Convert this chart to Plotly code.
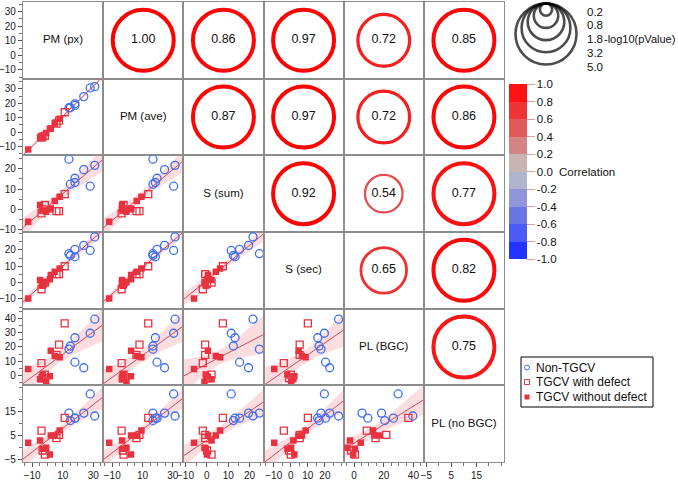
import numpy as np
import plotly.graph_objects as go

W, H = 678, 482

# ---------------- data ----------------
variables = ["PM (px)", "PM (ave)", "S (sum)", "S (sec)", "PL (BGC)", "PL (no BGC)"]
group_names = ["Non-TGCV", "TGCV with defect", "TGCV without defect"]

pm_px    = [14.1, 15.0, 18.0, 18.0, 23.8, 28.0, 31.0, -12.6, -4.8, -3.2, -1.7, -3.9, -0.8, -3.2, 1.6, 5.9, 7.6, 4.8, 8.0, 11.3, 2.2]
pm_ave   = [16.9, 16.9, 18.5, 19.6, 24.6, 30.6, 31.5, -12.0, -3.5, -3.0, -2.5, -3.8, -0.6, -2.8, 2.4, 6.0, 8.0, 6.2, 9.3, 13.8, 2.5]
s_sum    = [24.6, 12.4, 13.2, 15.3, 19.5, 11.4, 21.6, -6.0, 2.2, 0.1, 2.2, -1.9, -1.1, -0.5, 0.1, -0.8, -0.8, 4.2, 6.2, 7.5, 0.5]
s_sec    = [17.7, 16.6, 15.8, 20.4, 22.8, 19.7, 28.0, -9.7, 1.5, -1.0, 0.0, -4.1, 0.2, -2.0, 2.1, 5.2, 5.2, 6.6, 8.7, 10.0, 4.6]
pl_bgc   = [18.5, 20.7, 26.5, 9.3, 5.4, 29.7, 39.6, 4.5, -2.7, -2.0, 0.6, 8.6, -4.4, 0.6, -0.6, 14.5, 21.7, 13.7, 12.8, 36.6, 17.3]
pl_nobgc = [14.4, 11.3, 12.3, 12.3, 14.4, 22.4, 13.2, 2.0, 3.0, -1.2, -2.9, 7.1, -0.1, -0.5, -2.9, 4.0, 5.3, 5.1, 7.1, 12.4, 5.1]
group = (["Non-TGCV"] * 7 +
         ["TGCV without defect", "TGCV without defect", "TGCV with defect", "TGCV with defect",
          "TGCV with defect", "TGCV without defect", "TGCV without defect", "TGCV without defect",
          "TGCV with defect", "TGCV with defect", "TGCV without defect", "TGCV without defect",
          "TGCV with defect", "TGCV without defect"])

# upper triangle: correlation and -log10(pValue), row by row
corr_values = [1.00, 0.86, 0.97, 0.72, 0.85,
               0.87, 0.97, 0.72, 0.86,
               0.92, 0.54, 0.77,
               0.65, 0.82,
               0.75]
neglog10p = [5.0, 5.0, 5.0, 3.6, 5.0,
             5.0, 5.0, 3.6, 5.0,
             5.0, 1.9, 5.0,
             2.8, 5.0,
             5.0]
size_legend_values = [0.2, 0.8, 1.8, 3.2, 5.0]
colorbar_ticks = [1.0, 0.8, 0.6, 0.4, 0.2, 0.0, -0.2, -0.4, -0.6, -0.8, -1.0]

# axis ranges / ticks per variable (layout)
ranges = [[-16, 36.5], [-16, 37], [-11, 26.5], [-16, 31], [-7, 47], [-6, 26]]
yticks = [[-10, 0, 10, 20, 30], [-10, 0, 10, 20, 30], [-10, 0, 10, 20], [-10, 0, 10, 20], [0, 10, 20, 30, 40], [-5, 5, 15]]
xticks = [[-10, 10, 30], [-10, 10, 30], [-10, 0, 10, 20], [-10, 0, 10, 20], [0, 20, 40], [-5, 5, 15]]

data = [pm_px, pm_ave, s_sum, s_sec, pl_bgc, pl_nobgc]
data = [np.array(v, dtype=float) for v in data]
grp = np.array(group)
n = len(pm_px)
T_CRIT = 2.093  # t(0.975, df=19)

# ---------------- layout geometry ----------------
L, R, T, B = 23, 504, 2, 462
cw = (R - L) / 6
ch = (B - T) / 6
FONT = "Liberation Sans, Arial, Helvetica, sans-serif"

styles = {
    "Non-TGCV": dict(symbol="circle-open", size=8, color="#3f6ff0", line=dict(width=1.3, color="#3f6ff0")),
    "TGCV with defect": dict(symbol="square-open", size=7, color="#e8323f", line=dict(width=1.3, color="#e8323f")),
    "TGCV without defect": dict(symbol="square", size=6.5, color="#e8323f", line=dict(width=0)),
}

def corr_color(r):
    stops = [(-1.0, (34, 51, 255)), (-0.6, (90, 106, 232)), (-0.2, (154, 162, 216)), (0.0, (189, 189, 200)),
             (0.2, (207, 164, 164)), (0.4, (216, 112, 112)), (0.6, (232, 64, 64)), (0.8, (255, 8, 8)), (1.0, (255, 0, 0))]
    for (a, ca), (b, cb) in zip(stops[:-1], stops[1:]):
        if a <= r <= b:
            t = (r - a) / (b - a)
            c = [round(ca[k] + (cb[k] - ca[k]) * t) for k in range(3)]
            return "rgb(%d,%d,%d)" % tuple(c)
    return "rgb(255,0,0)"

RMAX = 30.5
def radius(v):
    return RMAX * np.sqrt(min(v, 5.0) / 5.0)

def stroke(v):
    return 1.2 + 2.8 * min(v, 5.0) / 5.0

fig = go.Figure()
layout = dict(width=W, height=H, margin=dict(l=0, r=0, t=0, b=0, autoexpand=False),
              paper_bgcolor="white", plot_bgcolor="rgba(0,0,0,0)",
              showlegend=False, font=dict(family=FONT, color="#111"))
annotations = []
shapes = []

def minor_vals(rng):
    lo, hi = rng
    start = np.ceil(lo / 5) * 5
    return list(np.arange(start, hi + 0.01, 5))

TICKFONT = dict(size=10, color="#222")
upper_idx = 0
for i in range(6):
    for j in range(6):
        k = i * 6 + j + 1
        xa = "xaxis" if k == 1 else f"xaxis{k}"
        ya = "yaxis" if k == 1 else f"yaxis{k}"
        xr = "x" if k == 1 else f"x{k}"
        yr = "y" if k == 1 else f"y{k}"
        x0 = (L + j * cw) / W
        x1 = (L + (j + 1) * cw) / W
        y1 = 1 - (T + i * ch) / H
        y0 = 1 - (T + (i + 1) * ch) / H
        base = dict(showline=True, mirror=True, linecolor="#8c8c8c", linewidth=1.3, automargin=False,
                    showgrid=False, zeroline=False, fixedrange=True)
        xax = dict(base, domain=[x0, x1], anchor=yr, range=ranges[j])
        yax = dict(base, domain=[y0, y1], anchor=xr, range=ranges[i])
        if i == 5:
            xax.update(tickmode="array", tickvals=xticks[j], ticks="outside", ticklen=4, tickwidth=1,
                       tickcolor="#555", showticklabels=True, tickfont=TICKFONT,
                       minor=dict(tickvals=minor_vals(ranges[j]), ticks="outside", ticklen=2.5, tickcolor="#777", tickwidth=1))
        else:
            xax.update(showticklabels=False, ticks="")
        if j == 0:
            yax.update(tickmode="array", tickvals=yticks[i], ticks="outside", ticklen=4, tickwidth=1,
                       tickcolor="#555", showticklabels=True, tickfont=TICKFONT,
                       minor=dict(tickvals=minor_vals(ranges[i]), ticks="outside", ticklen=2.5, tickcolor="#777", tickwidth=1))
        else:
            yax.update(showticklabels=False, ticks="")
        layout[xa] = xax
        layout[ya] = yax

        if i == j:
            fig.add_trace(go.Scatter(x=[sum(ranges[j]) / 2], y=[sum(ranges[i]) / 2], mode="text",
                                     text=[variables[i]], textposition="middle center",
                                     textfont=dict(size=11.5, color="#111"),
                                     xaxis=xr, yaxis=yr, hoverinfo="skip"))
        elif i > j:
            x = data[j]
            y = data[i]
            b1, b0 = np.polyfit(x, y, 1)
            xm = x.mean()
            sxx = ((x - xm) ** 2).sum()
            s = np.sqrt(((y - (b0 + b1 * x)) ** 2).sum() / (n - 2))
            xs = np.linspace(ranges[j][0] - 2, ranges[j][1] + 2, 60)
            yh = b0 + b1 * xs
            se = s * np.sqrt(1 / n + (xs - xm) ** 2 / sxx)
            up = yh + T_CRIT * se
            lo = yh - T_CRIT * se
            fig.add_trace(go.Scatter(x=np.concatenate([xs, xs[::-1]]), y=np.concatenate([up, lo[::-1]]),
                                     fill="toself", fillcolor="rgba(238,120,130,0.25)", line=dict(width=0),
                                     mode="lines", xaxis=xr, yaxis=yr, hoverinfo="skip"))
            fig.add_trace(go.Scatter(x=xs, y=yh, mode="lines", line=dict(color="#d9455a", width=1),
                                     xaxis=xr, yaxis=yr, hoverinfo="skip"))
            for g in group_names:
                m = grp == g
                fig.add_trace(go.Scatter(x=x[m], y=y[m], mode="markers", marker=styles[g],
                                         xaxis=xr, yaxis=yr, name=g))
        else:
            r = corr_values[upper_idx]
            v = neglog10p[upper_idx]
            upper_idx += 1
            cx = sum(ranges[j]) / 2
            cy = sum(ranges[i]) / 2
            col = corr_color(r)
            fig.add_trace(go.Scatter(x=[cx], y=[cy], mode="markers+text", text=[f"{r:.2f}"],
                                     textposition="middle center", textfont=dict(size=12.5, color="#111"),
                                     marker=dict(symbol="circle-open", size=2 * radius(v), color=col,
                                                 line=dict(width=stroke(v), color=col)),
                                     xaxis=xr, yaxis=yr, hoverinfo="skip"))

# overlay axis in pixel units for legends
layout["xaxis37"] = dict(domain=[0, 1], range=[0, W], visible=False, anchor="y37", fixedrange=True, automargin=False)
layout["yaxis37"] = dict(domain=[0, 1], range=[H, 0], visible=False, anchor="x37", fixedrange=True, automargin=False)

# size legend (-log10 pValue)
rads = [radius(v) for v in size_legend_values]
fig.add_trace(go.Scatter(x=[546] * len(rads), y=[3.5 + r for r in rads], mode="markers",
                         marker=dict(symbol="circle-open", size=[2 * r for r in rads], color="black",
                                     line=dict(width=2.6, color="black")),
                         xaxis="x37", yaxis="y37", hoverinfo="skip"))
for idx, v in enumerate(size_legend_values):
    annotations.append(dict(text=f"{v:.1f}", x=585, y=11.5 + 13.8 * idx, xref="x37", yref="y37",
                            xanchor="left", yanchor="middle", showarrow=False, font=dict(size=11.5)))
annotations.append(dict(text="-log10(pValue)", x=602, y=11.5 + 13.8 * 2, xref="x37", yref="y37",
                        xanchor="left", yanchor="middle", showarrow=False, font=dict(size=11)))

# colorbar
bands = ["#2233ff", "#4a5af2", "#6a76e2", "#8f97da", "#b0b4cc", "#c9b4b4", "#d48484", "#e05a5a", "#ee3535", "#ff1212"]
cs = []
for b, c in enumerate(bands):
    cs.append([b / 10, c])
    cs.append([(b + 1) / 10, c])
fig.add_trace(go.Scatter(x=[-50, -50], y=[-50, -50], mode="markers", xaxis="x37", yaxis="y37",
                         marker=dict(size=1, color=[-1, 1], cmin=-1, cmax=1, colorscale=cs, showscale=True,
                                     colorbar=dict(x=509 / W, xanchor="left", y=1 - 84 / H, yanchor="top",
                                                   len=175, lenmode="pixels", thickness=18, thicknessmode="pixels",
                                                   outlinewidth=0, xpad=0, ypad=0,
                                                   tickmode="array", tickvals=colorbar_ticks,
                                                   ticktext=[f"{t:.1f}" for t in colorbar_ticks],
                                                   ticks="outside", ticklen=8, tickcolor="#e0a0a0",
                                                   tickfont=dict(size=11.5, color="#111"))),
                         hoverinfo="skip"))
annotations.append(dict(text="Correlation", x=557, y=171.5, xref="x37", yref="y37", xanchor="left",
                        yanchor="middle", showarrow=False, font=dict(size=11.5)))

# group legend (manual box)
shapes.append(dict(type="rect", xref="x37", yref="y37", x0=521, x1=653, y0=357, y1=407,
                   line=dict(color="black", width=1), fillcolor="white", layer="below"))
leg_y = [367.5, 382, 397]
for g, yy in zip(group_names, leg_y):
    st = dict(styles[g])
    st["size"] = 5
    if "line" in st and st["line"].get("width", 0) > 0:
        st["line"] = dict(width=1, color=st["color"])
    fig.add_trace(go.Scatter(x=[527], y=[yy], mode="markers", marker=st, xaxis="x37", yaxis="y37",
                             hoverinfo="skip"))
    annotations.append(dict(text=g, x=534, y=yy, xref="x37", yref="y37", xanchor="left", yanchor="middle",
                            showarrow=False, font=dict(size=12)))

layout["annotations"] = annotations
layout["shapes"] = shapes
fig.update_layout(**layout)
fig.write_html("out.html", config={"displayModeBar": False},
               post_script="document.body.style.margin='0px';document.body.style.padding='0px';")
